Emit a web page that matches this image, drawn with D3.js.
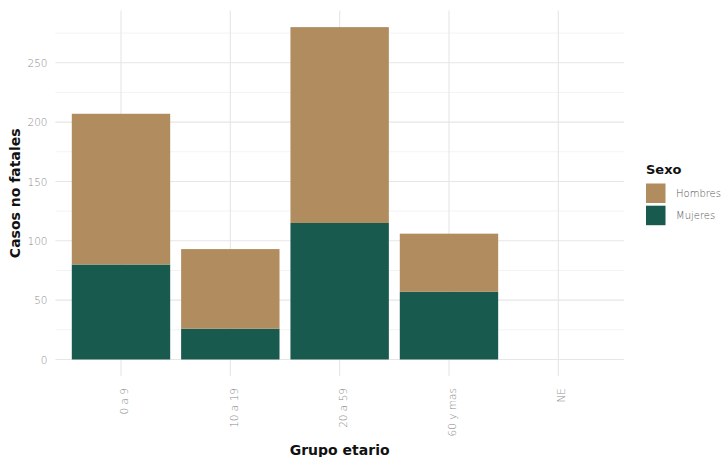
<!DOCTYPE html>
<html>
<head>
<meta charset="utf-8">
<script src="https://cdn.jsdelivr.net/npm/d3@7"></script>
<style>
  html, body { margin: 0; padding: 0; background: #ffffff; }
  svg { display: block; font-family: "DejaVu Sans", sans-serif; }
</style>
</head>
<body>
<svg id="chart" width="725" height="457"></svg>
<script>
const categories = ["0 a 9", "10 a 19", "20 a 59", "60 y mas", "NE"];
const mujeres = [80, 26, 115, 57, 0];
const hombres = [127, 67, 165, 49, 0];
const seriesNames = ["Hombres", "Mujeres"];
const seriesColors = ["#b08c5e", "#195a4e"];
const yMajorTicks = [0, 50, 100, 150, 200, 250];
const yMinorTicks = [25, 75, 125, 175, 225, 275];

const svg = d3.select("#chart");
const panel = { left: 55.4, right: 623.9, top: 10.5, bottom: 376.1 };

const rows = categories.map((c, i) => ({ cat: c, Mujeres: mujeres[i], Hombres: hombres[i] }));
const maxTotal = d3.max(rows, d => d.Mujeres + d.Hombres);
const pad = maxTotal * 0.05;

const x = d3.scalePoint().domain(categories).range([panel.left, panel.right]).padding(0.6);
const y = d3.scaleLinear().domain([-pad, maxTotal + pad]).range([panel.bottom, panel.top]);
const barW = x.step() * 0.9;

// minor grid
svg.append("g").selectAll("line").data(yMinorTicks).join("line")
  .attr("x1", panel.left).attr("x2", panel.right)
  .attr("y1", d => y(d)).attr("y2", d => y(d))
  .attr("stroke", "#f3f3f3").attr("stroke-width", 1);

// major grid horizontal
svg.append("g").selectAll("line").data(yMajorTicks).join("line")
  .attr("x1", panel.left).attr("x2", panel.right)
  .attr("y1", d => y(d)).attr("y2", d => y(d))
  .attr("stroke", "#e6e6e6").attr("stroke-width", 1.1);

// major grid vertical
svg.append("g").selectAll("line").data(categories).join("line")
  .attr("x1", d => x(d)).attr("x2", d => x(d))
  .attr("y1", panel.top).attr("y2", panel.bottom)
  .attr("stroke", "#e6e6e6").attr("stroke-width", 1.1);

// stacked bars (Mujeres at bottom, Hombres on top)
const stack = d3.stack().keys(["Mujeres", "Hombres"]);
const stacked = stack(rows);
const colorOf = d3.scaleOrdinal().domain(seriesNames).range(seriesColors);

svg.append("g").selectAll("g").data(stacked).join("g")
  .attr("fill", d => colorOf(d.key))
  .selectAll("rect").data(d => d.filter(p => p[1] - p[0] > 0)).join("rect")
  .attr("x", d => x(d.data.cat) - barW / 2)
  .attr("width", barW)
  .attr("y", d => y(d[1]))
  .attr("height", d => y(d[0]) - y(d[1]));

// y axis labels
const yAxis = d3.axisLeft(y).tickValues(yMajorTicks).tickSize(0).tickPadding(0);
const gy = svg.append("g").attr("transform", `translate(${47.5},0)`).call(yAxis);
gy.select(".domain").remove();
gy.selectAll("text")
  .attr("font-family", "DejaVu Sans").attr("font-size", 10.5).attr("font-weight", 200)
  .attr("fill", "#8a8a8a").attr("dy", "0.35em").attr("x", 0);

// x axis labels
const xAxis = d3.axisBottom(x).tickSize(0).tickPadding(0);
const gx = svg.append("g").attr("transform", `translate(0,${388})`).call(xAxis);
gx.select(".domain").remove();
gx.selectAll("text")
  .attr("font-family", "DejaVu Sans").attr("font-size", 10.5).attr("font-weight", 200)
  .attr("fill", "#8a8a8a")
  .attr("text-anchor", "end")
  .attr("transform", "rotate(-90)")
  .attr("x", 0).attr("y", 3).attr("dy", "0.35em");

// axis titles
svg.append("text")
  .attr("transform", `translate(20,${(panel.top + panel.bottom) / 2}) rotate(-90)`)
  .attr("text-anchor", "middle")
  .attr("font-size", 14).attr("font-weight", "bold").attr("fill", "#111")
  .text("Casos no fatales");

svg.append("text")
  .attr("x", (panel.left + panel.right) / 2).attr("y", 455)
  .attr("text-anchor", "middle")
  .attr("font-size", 14).attr("font-weight", "bold").attr("fill", "#111")
  .text("Grupo etario");

// legend
const lg = svg.append("g").attr("transform", "translate(646,0)");
lg.append("text").attr("x", 0).attr("y", 173.5)
  .attr("font-size", 13).attr("font-weight", "bold").attr("fill", "#111")
  .text("Sexo");
const keySize = 19.5;
const items = lg.selectAll("g.item").data(seriesNames).join("g")
  .attr("class", "item")
  .attr("transform", (d, i) => `translate(0,${183.5 + i * 22.2})`);
items.append("rect").attr("width", keySize).attr("height", keySize)
  .attr("fill", d => colorOf(d));
items.append("text").attr("x", 30).attr("y", keySize / 2).attr("dy", "0.35em")
  .attr("font-size", 10).attr("font-weight", 200).attr("fill", "#555")
  .text(d => d);
</script>
</body>
</html>
